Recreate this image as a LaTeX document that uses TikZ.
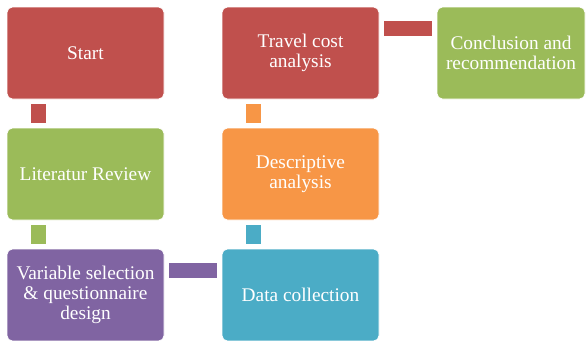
\documentclass[tikz,border=0pt]{standalone}
\usepackage{fontspec}
\setmainfont{Liberation Serif}
\definecolor{cred}{HTML}{C0504D}
\definecolor{cgreen}{HTML}{9BBB59}
\definecolor{cpurple}{HTML}{8064A2}
\definecolor{cblue}{HTML}{4BACC6}
\definecolor{corange}{HTML}{F79646}
\begin{document}
\begin{tikzpicture}[x=0.75pt,y=-0.75pt,
  box/.style={draw=white,line width=0.6pt,rounded corners=4pt,minimum width=117.75pt,minimum height=69pt,
    align=center,text=white,inner sep=2pt,font=\fontsize{14.5}{15}\selectfont},
  conn/.style={line width=11.25pt,draw=#1,shorten <=3.75pt,shorten >=3.75pt}]
\useasboundingbox (0,0) rectangle (588,340);
\node[box,fill=cred] (start) at (85.5,53) {Start};
\node[box,fill=cgreen] (lit) at (85.5,174) {Literatur Review};
\node[box,fill=cpurple] (var) at (85.5,295) {Variable selection\\\& questionnaire\\design};
\node[box,fill=cblue] (data) at (300.5,295) {Data collection};
\node[box,fill=corange] (desc) at (300.5,174) {Descriptive\\analysis};
\node[box,fill=cred] (travel) at (300.5,53) {Travel cost\\analysis};
\node[box,fill=cgreen,minimum width=111pt] (concl) at (511,53) {Conclusion and\\recommendation};
\draw[conn=cred] ([xshift=23.6pt]start.south west) -- ([xshift=23.6pt]lit.north west);
\draw[conn=cgreen] ([xshift=23.6pt]lit.south west) -- ([xshift=23.6pt]var.north west);
\draw[conn=cpurple] ([yshift=-16.1pt]var.north east) -- ([yshift=-16.1pt]data.north west);
\draw[conn=cblue] ([xshift=23.6pt]data.north west) -- ([xshift=23.6pt]desc.south west);
\draw[conn=corange] ([xshift=23.6pt]desc.north west) -- ([xshift=23.6pt]travel.south west);
\draw[conn=cred] ([yshift=-16.1pt]travel.north east) -- ([yshift=-16.1pt]concl.north west);
\end{tikzpicture}
\end{document}
